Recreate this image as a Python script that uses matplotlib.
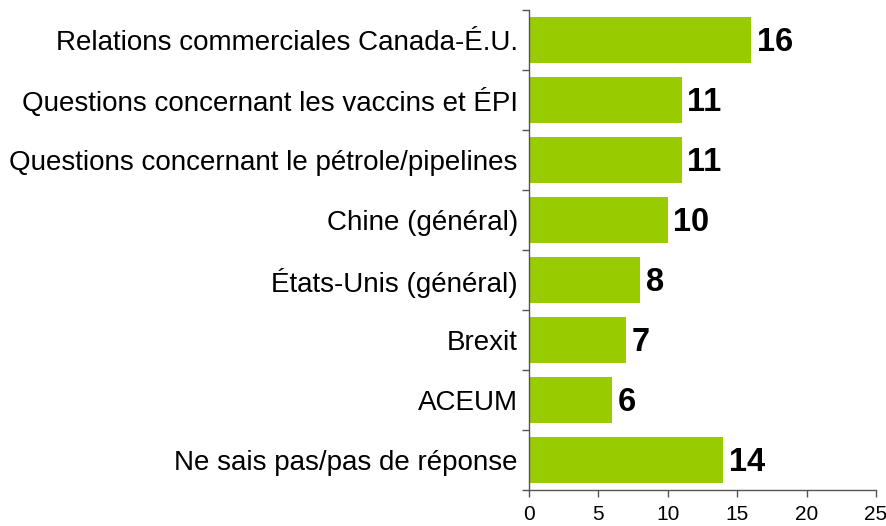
import matplotlib
matplotlib.use("Agg")
import matplotlib.pyplot as plt
import numpy as np

categories = [
    "Relations commerciales Canada-É.U.",
    "Questions concernant les vaccins et ÉPI",
    "Questions concernant le pétrole/pipelines",
    "Chine (général)",
    "États-Unis (général)",
    "Brexit",
    "ACEUM",
    "Ne sais pas/pas de réponse",
]
values = [16, 11, 11, 10, 8, 7, 6, 14]
xticks = [0, 5, 10, 15, 20, 25]

plt.rcParams['font.family'] = ['Liberation Sans', 'DejaVu Sans']

fig = plt.figure(figsize=(8.86, 5.26), dpi=100)
ax = fig.add_axes([0.597, 0.0684, 0.3917, 0.9126])

y = np.arange(len(categories))
ax.barh(y, values, height=0.78, color="#99CC00", zorder=2)
ax.set_ylim(len(categories) - 0.5, -0.5)
ax.set_xlim(0, 25)

ax.set_yticks(y)
ax.set_yticklabels(categories, fontsize=20)
ax.tick_params(axis='y', which='major', length=0, pad=8)
ax.set_yticks(np.arange(-0.5, len(categories) + 0.5, 1), minor=True)
ax.tick_params(axis='y', which='minor', length=5, color="#555555", width=1)

ax.set_xticks(xticks)
ax.set_xticklabels([str(t) for t in xticks], fontsize=15)
ax.tick_params(axis='x', length=5, color="#555555", width=1, pad=6)

for side in ['top', 'right']:
    ax.spines[side].set_visible(False)
for side in ['left', 'bottom']:
    ax.spines[side].set_color("#555555")
    ax.spines[side].set_linewidth(1)

for yi, v in zip(y, values):
    ax.text(v + 0.4, yi + 0.04, str(v), va='center', ha='left', fontsize=23.5, fontweight='bold', color='black')

fig.savefig("out.png", dpi=100)
